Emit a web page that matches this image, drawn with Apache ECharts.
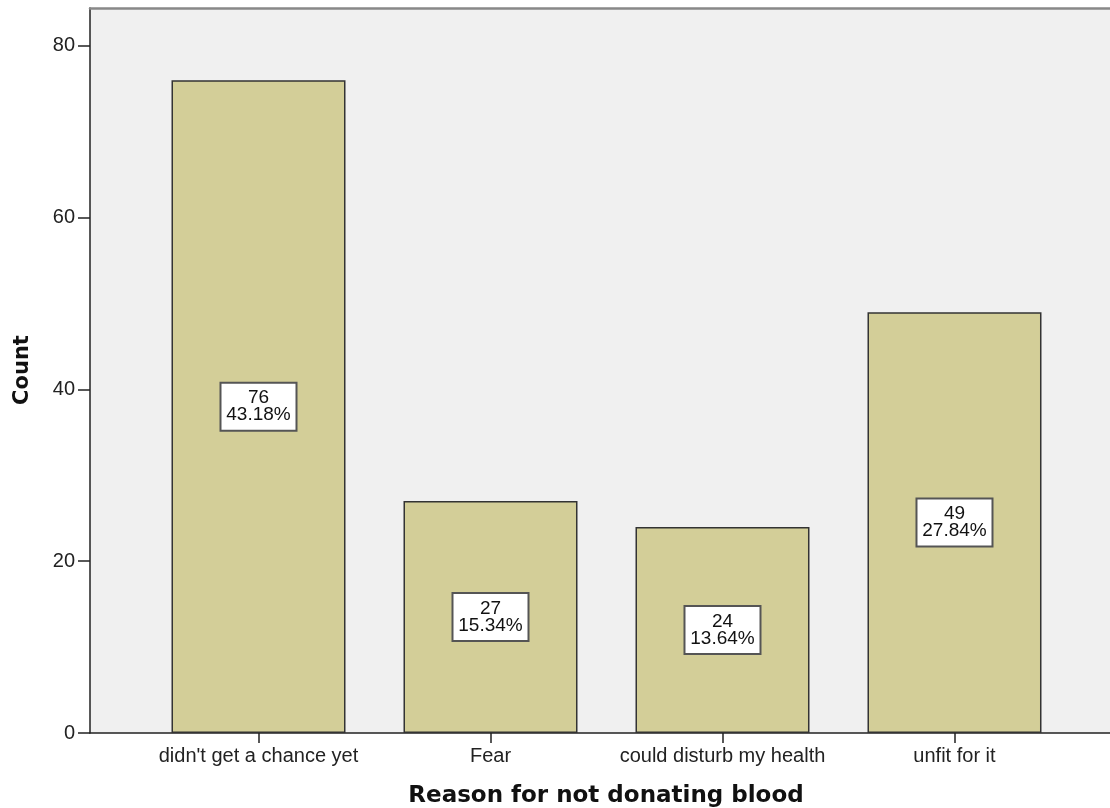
<!DOCTYPE html>
<html>
<head>
<meta charset="utf-8">
<script src="https://cdn.jsdelivr.net/npm/echarts@6.0.0/dist/echarts.min.js"></script>
<style>
html,body{margin:0;padding:0;background:#fff;}
#chart{width:1110px;height:808px;}
</style>
</head>
<body>
<div id="chart"></div>
<script>
var categories = ["didn't get a chance yet", "Fear", "could disturb my health", "unfit for it"];
var counts = [76, 27, 24, 49];
var percents = ["43.18%", "15.34%", "13.64%", "27.84%"];
var yTicks = [0, 20, 40, 60, 80];

var chart = echarts.init(document.getElementById('chart'));
var barData = counts.map(function (v, i) { return [i, v]; });
var catPos = categories.map(function (c, i) { return i; });

var option = {
  animation: false,
  grid: {
    left: 90, right: 0, top: 8, bottom: 75,
    show: true, backgroundColor: '#f0f0f0', borderWidth: 0
  },
  xAxis: [{
    type: 'value',
    min: -0.7263, max: 3.6703,
    position: 'bottom',
    splitLine: { show: false },
    axisLine: { show: true, onZero: false, lineStyle: { color: '#222', width: 1.5 } },
    axisTick: { show: true, length: 10, customValues: catPos, lineStyle: { color: '#222', width: 1.5 } },
    axisLabel: {
      customValues: catPos,
      margin: 13,
      fontFamily: 'Liberation Sans, Arial, sans-serif', fontSize: 20, color: '#222',
      formatter: function (v) { return categories[Math.round(v)] || ''; }
    }
  }, {
    type: 'value',
    min: -0.7263, max: 3.6703,
    position: 'top',
    splitLine: { show: false },
    axisLine: { show: true, onZero: false, lineStyle: { color: '#888', width: 2.5 } },
    axisTick: { show: false },
    axisLabel: { show: false }
  }],
  yAxis: {
    type: 'value',
    min: 0, max: 84.42,
    splitLine: { show: false },
    axisLine: { show: true, onZero: false, lineStyle: { color: '#222', width: 1.5 } },
    axisTick: { show: true, length: 12, customValues: yTicks, lineStyle: { color: '#222', width: 1.5 } },
    axisLabel: {
      customValues: yTicks,
      margin: 15,
      fontFamily: 'Liberation Sans, Arial, sans-serif', fontSize: 20, color: '#222'
    }
  },
  series: [{
    type: 'bar',
    xAxisIndex: 0,
    data: barData,
    barWidth: 174,
    itemStyle: { color: '#d3ce98', borderColor: '#333', borderWidth: 1.5 },
    label: {
      show: true,
      position: 'inside',
      formatter: function (p) { return counts[p.dataIndex] + '\n' + percents[p.dataIndex]; },
      fontFamily: 'Liberation Sans, Arial, sans-serif',
      fontSize: 19,
      lineHeight: 17,
      color: '#111',
      backgroundColor: '#fff',
      borderColor: '#555',
      borderWidth: 2,
      width: 68,
      align: 'center',
      padding: [6, 3, 6, 3]
    }
  }],
  graphic: [{
    type: 'text',
    x: 606, y: 796,
    style: {
      text: 'Reason for not donating blood',
      fontFamily: 'DejaVu Sans, Verdana, sans-serif',
      fontWeight: 'bold', fontSize: 23, fill: '#111',
      textAlign: 'center', textVerticalAlign: 'middle'
    }
  }, {
    type: 'text',
    x: 23, y: 370,
    rotation: Math.PI / 2,
    style: {
      text: 'Count',
      fontFamily: 'DejaVu Sans, Verdana, sans-serif',
      fontWeight: 'bold', fontSize: 21, fill: '#111',
      textAlign: 'center', textVerticalAlign: 'middle'
    }
  }]
};
chart.setOption(option);
</script>
</body>
</html>
